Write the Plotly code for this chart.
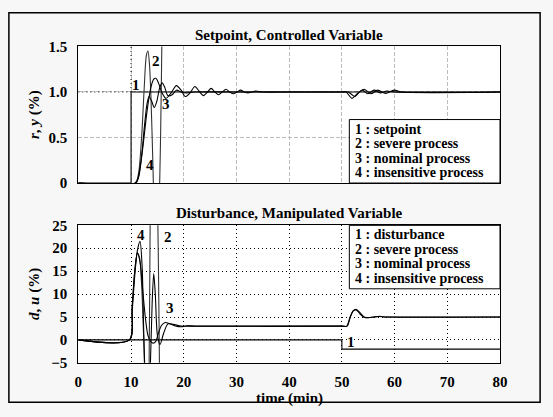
import plotly.graph_objects as go

# ---- time grids and responses: setpoint / controlled variable ----
t_r = [0, 10, 10, 80]
r = [0, 0, 1, 1]

t_y2 = [0, 10.8, 11.4, 12.0, 12.5, 12.9, 13.2, 13.5, 13.8, 14.1, 14.4, 14.8, 15.2, 15.6, 15.9, 16.2]
y2 = [0, 0, 0.1, 0.5, 1.05, 1.4, 1.45, 1.3, 0.9, 0.3, -0.3, -0.6, -0.4, 0.5, 1.8, 3.0]

t_y3 = [0, 10.8, 11.3, 11.8, 12.3, 12.8, 13.3, 13.8, 14.3, 14.7, 15.2, 15.8, 16.6, 17.6, 18.6, 19.5,
        20.3, 21.2, 22.1, 22.9, 23.7, 24.5, 25.2, 25.9, 26.6, 27.3, 28.0, 28.7, 29.4, 30.1, 30.8,
        31.5, 32.2, 32.9, 33.6, 35.0, 40.0, 50.0, 50.8, 51.9, 52.9, 53.9, 54.9, 56.1, 57.3, 58.5,
        60.0, 80.0]
y3 = [0, 0, 0.05, 0.2, 0.42, 0.68, 0.9, 1.06, 1.14, 1.15, 1.1, 1.0, 0.93, 0.99, 1.07, 1.02,
      0.95, 0.99, 1.06, 1.01, 0.96, 1.0, 1.04, 1.0, 0.97, 1.0, 1.03, 1.0, 0.98, 1.0, 1.02,
      1.0, 0.99, 1.0, 1.01, 1.0, 1.0, 1.0, 1.0, 0.93, 0.98, 1.02, 0.98, 1.02, 0.99, 1.01,
      1.0, 1.0]

t_y4 = [0, 10.9, 11.5, 12.0, 12.5, 13.0, 13.4, 13.9, 14.4, 14.9, 15.4, 15.9, 16.4, 17.0, 17.8,
        18.6, 19.5, 20.5, 22.0, 30.0, 50.0, 51.2, 52.5, 53.3, 54.2, 55.5, 56.8, 58.3, 59.9, 61.5, 80.0]
y4 = [0, 0, 0.08, 0.3, 0.6, 0.86, 0.95, 0.9, 0.83, 0.9, 1.04, 1.1, 1.05, 0.96, 0.97,
      1.02, 1.0, 0.99, 1.0, 1.0, 1.0, 1.0, 0.95, 1.0, 1.03, 0.98, 1.02, 0.985, 1.02, 1.0, 1.0]

# ---- disturbance / manipulated variable ----
t_d = [0, 50, 50, 80]
d = [0, 0, -2, -2]

t_u2 = [0, 9.7, 10.2, 10.7, 11.2, 11.6, 12.0, 12.4, 12.8, 13.2, 13.5, 13.8, 14.3, 15.0, 15.3, 15.6, 16.0]
u2 = [0, 0, 7, 15, 19, 18, 12, 0, -15, -25, 5, 40, 50, 30, 5, -30, -60]

t_u3 = [0, 9.7, 10.2, 10.7, 11.2, 11.7, 12.2, 12.7, 13.2, 13.7, 14.2, 14.7, 15.2, 15.8, 16.5,
        17.2, 18.0, 19.0, 19.8, 20.5, 22.0, 50.0, 50.9, 51.5, 52.1, 52.7, 53.4, 54.2, 55.0,
        56.0, 57.2, 58.3, 59.5, 80.0]
u3 = [0, 0, 7, 15, 19, 17, 11, 5, 1, -0.3, -0.7, -0.3, 1.5, 3.2, 3.8,
      3.6, 3.2, 2.9, 2.9, 3.1, 3.0, 3.0, 3.0, 4.8, 6.3, 6.7, 6.0, 5.0, 4.85,
      5.0, 5.15, 5.0, 5.0, 5.0]

t_u4 = [0, 9.7, 10.2, 10.7, 11.2, 11.7, 12.1, 12.4, 12.8, 13.2, 13.6, 14.0, 14.3, 14.6, 15.0,
        15.5, 16.2, 17.0, 18.0, 19.5, 21.0, 50.0, 51.0, 51.6, 52.2, 52.8, 53.5, 54.3, 55.5,
        57.0, 58.5, 80.0]
u4 = [0, 0, 6, 14, 19.5, 21.5, 16, 2, -12, -18, -8, 8, 14.5, 10, 1,
      -1, 1.5, 3.5, 3.4, 3.0, 3.0, 3.0, 3.0, 5.0, 6.4, 6.5, 5.6, 4.9, 4.9,
      5.1, 5.0, 5.0]

x_ticks = [0, 10, 20, 30, 40, 50, 60, 70, 80]
y_ticks_top = [0, 0.5, 1.0, 1.5]
y_tick_text_top = ["0", "0.5", "1.0", "1.5"]
y_ticks_bot = [-5, 0, 5, 10, 15, 20, 25]

legend_top = ["1 : setpoint", "2 : severe process", "3 : nominal process", "4 : insensitive process"]
legend_bot = ["1 : disturbance", "2 : severe process", "3 : nominal process", "4 : insensitive process"]

FONT = "'Liberation Serif', 'Times New Roman', Times, serif"
FS = 15
W, H = 553, 417

fig = go.Figure()


def line(x, y, axis, width=1.0, color="black", shape="spline"):
    xa, ya = axis
    fig.add_trace(go.Scatter(x=x, y=y, mode="lines", xaxis=xa, yaxis=ya,
                             line=dict(color=color, width=width, shape=shape,
                                       smoothing=0.8 if shape == "spline" else None),
                             showlegend=False, hoverinfo="skip"))


top = ("x", "y")
bot = ("x2", "y2")
line(t_r, r, top, 1.1, shape="linear")
line(t_y2, y2, top, 1.1, "#333333")
line(t_y4, y4, top, 1.1)
line(t_y3, y3, top, 1.1)

line(t_d, d, bot, 1.1, shape="linear")
line(t_u2, u2, bot, 1.1, "#333333")
line(t_u4, u4, bot, 1.1)
line(t_u3, u3, bot, 1.1)

x0, x1 = 76 / W, 507 / W
top_dom = [1 - 182 / H, 1 - 40 / H]
bot_dom = [1 - 369 / H, 1 - 226 / H]
tickfont = dict(family=FONT, size=FS, color="black", weight="bold")

common_x = dict(range=[0, 80], tickvals=x_ticks, showline=True, linecolor="black", linewidth=1,
                mirror=True, ticks="", zeroline=False, tickfont=tickfont, domain=[x0, x1],
                ticklabelstandoff=5)

fig.update_layout(
    width=W, height=H, margin=dict(l=0, r=0, t=0, b=0),
    paper_bgcolor="#f7f7f7", plot_bgcolor="white",
    xaxis=dict(**common_x, anchor="y", showticklabels=False,
               showgrid=True, gridcolor="#bdbdbd", griddash="4px,2px", gridwidth=1),
    yaxis=dict(range=[0, 1.5], tickvals=y_ticks_top, ticktext=y_tick_text_top, domain=top_dom,
               anchor="x", showline=True, linecolor="black", linewidth=1, mirror=True, ticks="",
               zeroline=False, tickfont=tickfont, showgrid=True, gridcolor="#bdbdbd",
               griddash="4px,2px", gridwidth=1, ticklabelstandoff=7),
    xaxis2=dict(**common_x, anchor="y2", showticklabels=True,
                showgrid=True, gridcolor="black", griddash="1px,3px", gridwidth=1),
    yaxis2=dict(range=[-5, 25], tickvals=y_ticks_bot, domain=bot_dom, anchor="x2",
                showline=True, linecolor="black", linewidth=1, mirror=True, ticks="",
                zeroline=False, tickfont=tickfont, showgrid=True, gridcolor="black",
                griddash="1px,3px", gridwidth=1, ticklabelstandoff=7),
)

shapes = [
    # outer frame
    dict(type="rect", xref="paper", yref="paper", x0=5 / W, x1=548 / W, y0=1 - 410 / H, y1=1 - 5 / H,
         line=dict(color="black", width=1.5), fillcolor="rgba(0,0,0,0)", layer="below"),
    # dotted guides at the setpoint step
    dict(type="line", xref="x", yref="y", x0=t_r[1], x1=t_r[1], y0=r[2], y1=1.5,
         line=dict(color="black", width=1, dash="1px,3px")),
    dict(type="line", xref="x", yref="y", x0=0, x1=t_r[1], y0=r[2], y1=r[2],
         line=dict(color="black", width=1, dash="1px,3px")),
    # legend boxes
    dict(type="rect", xref="paper", yref="paper", x0=353 / W, x1=x1, y0=top_dom[0], y1=1 - 116 / H,
         line=dict(color="black", width=1), fillcolor="white"),
    dict(type="rect", xref="paper", yref="paper", x0=353 / W, x1=x1, y0=1 - 292 / H, y1=bot_dom[1],
         line=dict(color="black", width=1), fillcolor="white"),
]
fig.update_layout(shapes=shapes)

ann = []


def text(x, y, s, xref="paper", yref="paper", size=FS, **kw):
    kw.setdefault("xanchor", "center")
    ann.append(dict(x=x, y=y, xref=xref, yref=yref, text=s, showarrow=False, yanchor="middle",
                    font=dict(family=FONT, size=size, color="black"), **kw))


text(291.5 / W, 1 - 28 / H, "<b>Setpoint, Controlled Variable</b>")
text(291.5 / W, 1 - 213 / H, "<b>Disturbance, Manipulated Variable</b>")
text(291.5 / W, 1 - 401 / H, "<b>time (min)</b>", yshift=-5)
text(31 / W, 1 - 111 / H, "<b><i>r</i>, <i>y</i> (%)</b>", textangle=-90)
text(31 / W, 1 - 297 / H, "<b><i>d</i>, <i>u</i> (%)</b>", textangle=-90)

for i, s in enumerate(legend_top):
    text(358 / W, 1 - (126 + 15 * i) / H, "<b>%s</b>" % s, xanchor="left", size=14,
         borderpad=0)
for i, s in enumerate(legend_bot):
    text(358 / W, 1 - (236 + 15 * i) / H, "<b>%s</b>" % s, xanchor="left", size=14,
         borderpad=0)

# curve numbers
text(10.9, 1.08, "<b>1</b>", "x", "y")
text(14.8, 1.34, "<b>2</b>", "x", "y")
text(16.6, 0.87, "<b>3</b>", "x", "y")
text(13.5, 0.2, "<b>4</b>", "x", "y")
text(11.8, 22.9, "<b>4</b>", "x2", "y2")
text(17.1, 22.5, "<b>2</b>", "x2", "y2")
text(17.4, 7.0, "<b>3</b>", "x2", "y2")
text(51.8, -0.5, "<b>1</b>", "x2", "y2")

fig.update_layout(annotations=ann)
fig.write_html("out.html")
